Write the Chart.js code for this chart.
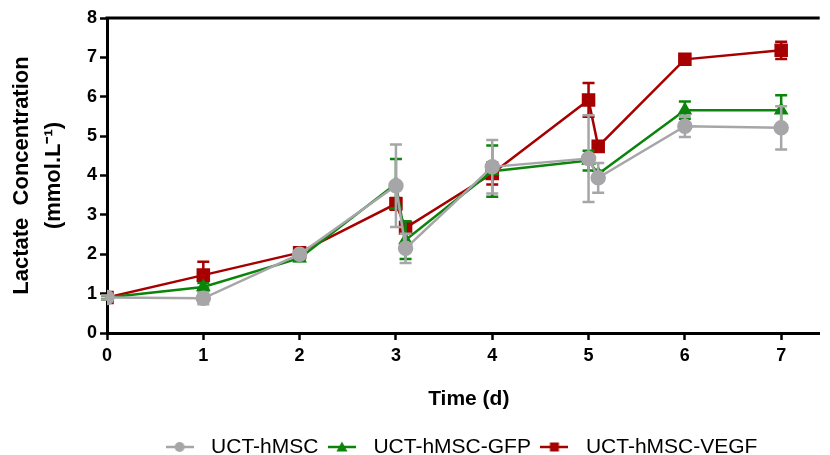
<!DOCTYPE html>
<html>
<head>
<meta charset="utf-8">
<script src="https://cdn.jsdelivr.net/npm/chart.js@4/dist/chart.umd.min.js"></script>
<style>
  html, body { margin: 0; padding: 0; background: #fff; }
  #wrap { width: 830px; height: 455px; }
</style>
</head>
<body>
<div id="wrap"><canvas id="c" width="830" height="455"></canvas></div>
<script>
// ---- data ----
const times = [0, 1, 2, 3, 3.1, 4, 5, 5.1, 6, 7];
const hmsc     = [0.90, 0.88, 2.00, 3.74, 2.15, 4.22, 4.43, 3.94, 5.25, 5.21];
const hmscErr  = [0.05, 0.15, 0.06, 1.05, 0.37, 0.68, 1.10, 0.38, 0.27, 0.55];
const gfp      = [0.90, 1.17, 1.90, 3.79, 2.36, 4.11, 4.38, 4.04, 5.66, 5.66];
const gfpErr   = [0.04, 0.10, 0.07, 0.63, 0.48, 0.65, 0.25, 0.08, 0.22, 0.38];
const vegf     = [0.90, 1.47, 2.04, 3.28, 2.67, 4.05, 5.92, 4.74, 6.95, 7.18];
const vegfErr  = [0.05, 0.34, 0.08, 0.15, 0.12, 0.28, 0.43, 0.08, 0.08, 0.22];
const xTicks = [0, 1, 2, 3, 4, 5, 6, 7];
const yTicks = [0, 1, 2, 3, 4, 5, 6, 7, 8];
const labels = ['UCT-hMSC', 'UCT-hMSC-GFP', 'UCT-hMSC-VEGF'];

const GRAY = '#A6A6A9', GREEN = '#0B840B', RED = '#A60000';
const FONT = "'Liberation Sans', Arial, sans-serif";

function pts(vals) { return times.map((t, i) => ({ x: t, y: vals[i] })); }

function legendIcon(color, style, r) {
  const c = document.createElement('canvas');
  c.width = 28; c.height = 16;
  const g = c.getContext('2d');
  g.strokeStyle = color; g.lineWidth = 2.5;
  g.beginPath(); g.moveTo(0, 8); g.lineTo(28, 8); g.stroke();
  g.fillStyle = color;
  g.beginPath();
  if (style === 'circle') { g.arc(14, 8, r, 0, Math.PI * 2); }
  else if (style === 'rect') { g.rect(14 - r, 8 - r, 2 * r, 2 * r); }
  else { g.moveTo(14, 8 - r); g.lineTo(14 + r, 8 + r * 0.8); g.lineTo(14 - r, 8 + r * 0.8); g.closePath(); }
  g.fill();
  return c;
}

const errorBars = {
  id: 'errorBars',
  beforeDatasetDraw(chart, args) {
    const ds = chart.data.datasets[args.index];
    const ys = chart.scales.y, ctx = chart.ctx;
    ctx.save();
    ctx.strokeStyle = ds.borderColor;
    ctx.lineWidth = 2.5;
    args.meta.data.forEach((el, i) => {
      const e = ds.errors[i];
      const v = ds.data[i].y;
      const x = el.x;
      const yt = ys.getPixelForValue(v + e), yb = ys.getPixelForValue(v - e);
      ctx.beginPath();
      ctx.moveTo(x, yt); ctx.lineTo(x, yb);
      ctx.moveTo(x - 6, yt); ctx.lineTo(x + 6, yt);
      ctx.moveTo(x - 6, yb); ctx.lineTo(x + 6, yb);
      ctx.stroke();
    });
    ctx.restore();
  }
};

const frame = {
  id: 'frame',
  afterLayout(chart) {
    if (chart.legend) { chart.legend.left += 43; chart.legend.right += 43; }
  },
  afterDraw(chart) {
    const { ctx, chartArea: a } = chart;
    ctx.save();
    ctx.strokeStyle = '#000'; ctx.lineWidth = 3;
    ctx.beginPath(); ctx.moveTo(a.left - 1.5, a.top); ctx.lineTo(a.right, a.top); ctx.stroke();
    ctx.fillStyle = '#000';
    ctx.font = "bold 21px " + FONT;
    ctx.textAlign = 'center'; ctx.textBaseline = 'middle';
    ctx.fillText('Time (d)', a.left + (a.right - a.left) * 0.5076, 399);
    ctx.restore();
  }
};

new Chart(document.getElementById('c'), {
  type: 'line',
  data: {
    datasets: [
      { label: labels[0], data: pts(hmsc), errors: hmscErr, borderColor: GRAY, backgroundColor: GRAY,
        pointStyle: 'circle', pointRadius: 6.5, pointHoverRadius: 6.5, borderWidth: 2.5, legendImg: legendIcon(GRAY, 'circle', 5) },
      { label: labels[1], data: pts(gfp), errors: gfpErr, borderColor: GREEN, backgroundColor: GREEN,
        pointStyle: 'triangle', pointRadius: 6, pointHoverRadius: 6, borderWidth: 2.5, legendImg: legendIcon(GREEN, 'tri', 5.5) },
      { label: labels[2], data: pts(vegf), errors: vegfErr, borderColor: RED, backgroundColor: RED,
        pointStyle: 'rect', pointRadius: 7.8, pointHoverRadius: 7.8, borderWidth: 2.5, legendImg: legendIcon(RED, 'rect', 4.5) }
    ]
  },
  options: {
    responsive: false,
    animation: false,
    events: [],
    layout: { padding: { top: 18, right: 0, left: 0, bottom: -12.5 } },
    plugins: {
      tooltip: { enabled: false },
      legend: {
        position: 'bottom',
        labels: {
          usePointStyle: true,
          pointStyleWidth: 42,
          padding: 2.5,
          color: '#000',
          font: { family: FONT, size: 21 },
          generateLabels(chart) {
            return chart.data.datasets.map((d, i) => ({
              text: d.label, pointStyle: d.legendImg, fillStyle: d.borderColor,
              strokeStyle: d.borderColor, lineWidth: 0, datasetIndex: i, hidden: false, fontColor: '#000'
            }));
          }
        }
      }
    },
    scales: {
      x: {
        type: 'linear', min: 0, max: 7.4,
        afterBuildTicks(s) { s.ticks = xTicks.map(v => ({ value: v })); },
        afterFit(s) { s.height = 101; },
        ticks: { color: '#000', padding: 5, font: { family: FONT, size: 18, weight: 'bold' } },
        grid: { drawOnChartArea: false, drawTicks: true, tickLength: 7, tickWidth: 2.5, tickColor: '#000' },
        border: { display: true, color: '#000', width: 3 }
      },
      y: {
        min: 0, max: 8,
        afterBuildTicks(s) { s.ticks = yTicks.map(v => ({ value: v })); },
        afterFit(s) { s.width = 107; },
        ticks: { color: '#000', padding: 3, font: { family: FONT, size: 18, weight: 'bold' } },
        grid: { drawOnChartArea: false, drawTicks: true, tickLength: 7, tickWidth: 2.5, tickColor: '#000' },
        border: { display: true, color: '#000', width: 3 },
        title: {
          display: true, text: ['Lactate  Concentration', '(mmol.L\u207B\u00B9)'], color: '#000',
          font: { family: FONT, size: 22, weight: 'bold', lineHeight: 1.455 }, padding: { top: 6, bottom: 0 }
        }
      }
    }
  },
  plugins: [errorBars, frame]
});
</script>
</body>
</html>
